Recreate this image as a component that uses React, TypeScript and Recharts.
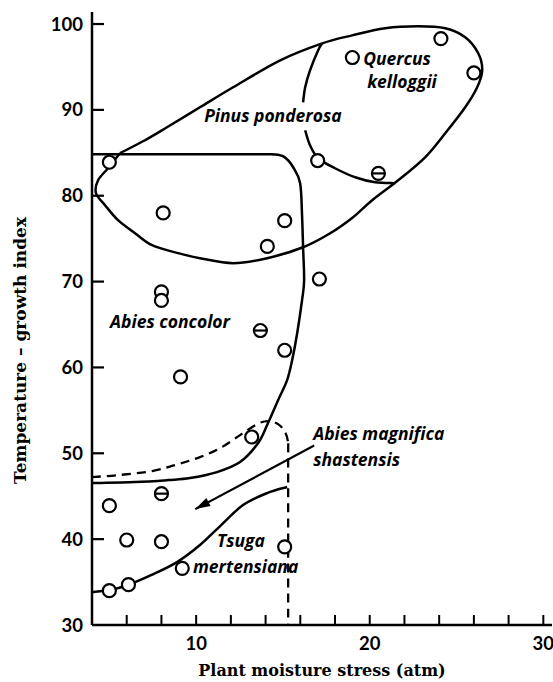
import React from 'react';
import { ScatterChart, Scatter, XAxis, YAxis } from 'recharts';

// axis ticks
const xTicks = [6, 8, 10, 12, 14, 16, 18, 20, 22, 24, 26, 28, 30];
const xLabels = [10, 20, 30];
const yTicks = [30, 40, 50, 60, 70, 80, 90, 100];

// sample stands (open circles)
const stands = [
  { x: 5.0, y: 83.9 },
  { x: 8.1, y: 78.0 },
  { x: 19.0, y: 96.1 },
  { x: 24.1, y: 98.3 },
  { x: 26.0, y: 94.3 },
  { x: 17.0, y: 84.1 },
  { x: 15.1, y: 77.1 },
  { x: 14.1, y: 74.1 },
  { x: 17.1, y: 70.3 },
  { x: 8.0, y: 68.8 },
  { x: 8.0, y: 67.8 },
  { x: 15.1, y: 62.0 },
  { x: 9.1, y: 58.9 },
  { x: 13.2, y: 51.9 },
  { x: 5.0, y: 43.9 },
  { x: 6.0, y: 39.9 },
  { x: 8.0, y: 39.7 },
  { x: 9.2, y: 36.6 },
  { x: 5.0, y: 34.0 },
  { x: 6.1, y: 34.7 },
  { x: 15.1, y: 39.1 },
];

// stands drawn with a bar through the circle
const barredStands = [
  { x: 20.5, y: 82.6 },
  { x: 13.7, y: 64.3 },
  { x: 8.0, y: 45.3 },
];

// Pinus ponderosa outer boundary (closed)
const pinusLoop = [
  { x: 5.61, y: 84.95 }, { x: 7.05, y: 86.46 }, { x: 8.32, y: 87.97 }, { x: 10.22, y: 90.3 },
  { x: 12.13, y: 92.63 }, { x: 14.84, y: 95.77 }, { x: 17.26, y: 97.75 }, { x: 18.99, y: 98.68 },
  { x: 20.89, y: 99.5 }, { x: 22.79, y: 99.73 }, { x: 24.35, y: 99.5 }, { x: 25.5, y: 98.45 },
  { x: 26.25, y: 96.59 }, { x: 26.48, y: 94.61 }, { x: 26.19, y: 92.63 }, { x: 25.5, y: 90.3 },
  { x: 24.35, y: 87.28 }, { x: 23.19, y: 84.48 }, { x: 21.64, y: 81.8 }, { x: 20.14, y: 79.48 },
  { x: 19.04, y: 77.5 }, { x: 17.72, y: 75.63 }, { x: 16.16, y: 74.0 }, { x: 14.09, y: 72.72 },
  { x: 12.13, y: 72.14 }, { x: 10.22, y: 72.72 }, { x: 8.96, y: 73.31 }, { x: 7.46, y: 74.24 },
  { x: 6.48, y: 75.63 }, { x: 5.5, y: 77.15 }, { x: 4.75, y: 78.9 }, { x: 4.23, y: 80.29 },
  { x: 4.35, y: 81.8 }, { x: 4.92, y: 83.2 }, { x: 5.61, y: 84.95 },
];

// Quercus kelloggii inner boundary (broken by the label)
const quercusUpper = [
  { x: 17.26, y: 97.75 }, { x: 17.03, y: 96.94 }, { x: 16.56, y: 94.61 }, { x: 16.28, y: 92.63 },
  { x: 16.16, y: 90.88 },
];
const quercusLower = [
  { x: 16.28, y: 87.62 }, { x: 16.56, y: 85.88 }, { x: 17.03, y: 84.37 }, { x: 18.0, y: 83.2 },
  { x: 19.16, y: 82.15 }, { x: 20.31, y: 81.57 }, { x: 21.46, y: 81.46 },
];

// Abies concolor boundary
const concolorTop = [
  { x: 4.0, y: 84.83 }, { x: 14.43, y: 84.83 },
];
const concolorEdge = [
  { x: 14.43, y: 84.83 }, { x: 15.05, y: 84.55 }, { x: 15.59, y: 83.32 }, { x: 15.99, y: 81.46 },
  { x: 16.1, y: 77.74 }, { x: 16.16, y: 74.0 }, { x: 16.22, y: 70.16 }, { x: 16.1, y: 67.83 },
  { x: 15.82, y: 63.99 }, { x: 15.53, y: 60.85 }, { x: 15.24, y: 58.52 }, { x: 14.72, y: 56.19 },
  { x: 14.14, y: 53.52 }, { x: 13.57, y: 51.19 }, { x: 12.53, y: 48.98 }, { x: 11.2, y: 47.81 },
  { x: 9.65, y: 47.11 }, { x: 8.38, y: 46.88 }, { x: 6.48, y: 46.65 }, { x: 4.0, y: 46.53 },
];

// Abies magnifica shastensis boundary (dashed)
const magnificaEdge = [
  { x: 4.0, y: 47.23 }, { x: 5.5, y: 47.46 }, { x: 7.46, y: 47.93 }, { x: 8.96, y: 48.74 },
  { x: 10.22, y: 49.56 }, { x: 11.38, y: 50.6 }, { x: 12.53, y: 52.12 }, { x: 13.51, y: 53.4 },
  { x: 14.14, y: 53.75 }, { x: 14.72, y: 53.4 }, { x: 15.12, y: 52.47 }, { x: 15.3, y: 51.19 },
  { x: 15.3, y: 49.21 }, { x: 15.3, y: 30.0 },
];

// Tsuga mertensiana boundary
const tsugaEdge = [
  { x: 4.0, y: 33.84 }, { x: 5.04, y: 34.07 }, { x: 6.07, y: 34.66 }, { x: 7.4, y: 35.8 },
  { x: 8.9, y: 37.33 }, { x: 10.22, y: 39.31 }, { x: 11.44, y: 41.64 }, { x: 12.7, y: 43.97 },
  { x: 14.09, y: 45.37 }, { x: 15.24, y: 46.07 },
];

const arrowShaft = [
  { x: 16.8, y: 50.9 }, { x: 9.95, y: 43.5 },
];
const arrowTip = [{ x: 9.95, y: 43.5 }];

const labels = [
  { x: 10.46, y: 88.56, text: 'Pinus ponderosa' },
  { x: 19.62, y: 95.19, text: 'Quercus' },
  { x: 19.85, y: 92.51, text: 'kelloggii' },
  { x: 5.04, y: 64.57, text: 'Abies concolor' },
  { x: 16.74, y: 51.55, text: 'Abies magnifica' },
  { x: 16.74, y: 48.5, text: 'shastensis' },
  { x: 11.2, y: 39.08, text: 'Tsuga' },
  { x: 9.82, y: 36.05, text: 'mertensiana' },
];

// uniform Catmull-Rom curve, passes through every point
const catmullRom = (context: any) => {
  let pts: number[][] = [];
  return {
    areaStart() {},
    areaEnd() {},
    lineStart() { pts = []; },
    point(x: number, y: number) { pts.push([x, y]); },
    lineEnd() {
      if (!pts.length) return;
      context.moveTo(pts[0][0], pts[0][1]);
      for (let i = 0; i < pts.length - 1; i++) {
        const p0 = pts[Math.max(i - 1, 0)];
        const p1 = pts[i];
        const p2 = pts[i + 1];
        const p3 = pts[Math.min(i + 2, pts.length - 1)];
        context.bezierCurveTo(
          p1[0] + (p2[0] - p0[0]) / 6, p1[1] + (p2[1] - p0[1]) / 6,
          p2[0] - (p3[0] - p1[0]) / 6, p2[1] - (p3[1] - p1[1]) / 6,
          p2[0], p2[1]
        );
      }
    },
  };
};

const tickFont = { fontFamily: 'Lato', fontWeight: 700, fontSize: 18.5 };
const nameFont = { fontFamily: 'Open Sans', fontWeight: 700, fontStyle: 'italic', fontSize: 17.5 };

const noDot = () => <g />;

const Circle = (p: any) => (
  <circle cx={p.cx} cy={p.cy} r={6.5} fill="#fff" stroke="#000" strokeWidth={2.2} />
);

const BarredCircle = (p: any) => (
  <g>
    <circle cx={p.cx} cy={p.cy} r={6.5} fill="#fff" stroke="#000" strokeWidth={2.2} />
    <line x1={p.cx - 6.5} y1={p.cy} x2={p.cx + 6.5} y2={p.cy} stroke="#000" strokeWidth={2.2} />
  </g>
);

const ArrowHead = (p: any) => (
  <polygon
    points="0,0 -15,-4.5 -15,4.5"
    fill="#000"
    transform={`translate(${p.cx},${p.cy}) rotate(151.7)`}
  />
);

const NameLabel = (p: any) => (
  <text x={p.cx} y={p.cy} fill="#000" style={nameFont}>{p.payload.text}</text>
);

const XTick = (p: any) => {
  const v = p.payload.value;
  return (
    <g>
      <line x1={p.x} y1={p.y} x2={p.x} y2={p.y - 10} stroke="#000" strokeWidth={2} />
      {xLabels.includes(v) && (
        <text x={p.x} y={p.y + 25} textAnchor="middle" fill="#000" style={tickFont}>{v}</text>
      )}
    </g>
  );
};

const YTick = (p: any) => (
  <g>
    {p.payload.value !== 30 && (
      <line x1={p.x} y1={p.y} x2={p.x + 12} y2={p.y} stroke="#000" strokeWidth={2.2} />
    )}
    <text x={p.x - 9} y={p.y + 6.5} textAnchor="end" fill="#000" style={tickFont}>{p.payload.value}</text>
  </g>
);

const XTitle = (p: any) => {
  const vb = p.viewBox;
  return (
    <text
      x={vb.x + vb.width / 2}
      y={vb.y + 51}
      textAnchor="middle"
      fill="#000"
      style={{ fontFamily: 'DejaVu Serif', fontWeight: 700, fontSize: 16 }}
    >
      Plant moisture stress (atm)
    </text>
  );
};

const YTitle = (p: any) => {
  const vb = p.viewBox;
  return (
    <text
      transform={`translate(${vb.x + 26},${vb.y + vb.height / 2 + 32}) rotate(-90)`}
      textAnchor="middle"
      fill="#000"
      style={{ fontFamily: 'DejaVu Serif', fontWeight: 700, fontSize: 17 }}
    >
      Temperature – growth index
    </text>
  );
};

const solid = { stroke: '#000', strokeWidth: 2.5 };
const dashed = { stroke: '#000', strokeWidth: 2.3, strokeDasharray: '9 6' };

export default function App() {
  return (
    <div style={{ position: 'absolute', left: 0, top: 0, background: '#fff' }}>
      <ScatterChart width={553} height={682} margin={{ top: 12, right: 1, bottom: 0, left: 0 }}>
        <XAxis
          type="number"
          dataKey="x"
          domain={[4, 30.5]}
          ticks={xTicks}
          interval={0}
          allowDataOverflow
          tickSize={0}
          tickMargin={0}
          tickLine={false}
          tick={XTick}
          axisLine={{ stroke: '#000', strokeWidth: 2.5 }}
          height={57}
          label={XTitle}
        />
        <YAxis
          type="number"
          dataKey="y"
          domain={[30, 101.4]}
          ticks={yTicks}
          interval={0}
          allowDataOverflow
          tickSize={0}
          tickMargin={0}
          tickLine={false}
          tick={YTick}
          axisLine={{ stroke: '#000', strokeWidth: 2.5 }}
          width={92}
          label={YTitle}
        />
        <Scatter data={pinusLoop} line={solid} lineJointType={catmullRom as any} shape={noDot} isAnimationActive={false} />
        <Scatter data={quercusUpper} line={solid} lineJointType={catmullRom as any} shape={noDot} isAnimationActive={false} />
        <Scatter data={quercusLower} line={solid} lineJointType={catmullRom as any} shape={noDot} isAnimationActive={false} />
        <Scatter data={concolorTop} line={solid} shape={noDot} isAnimationActive={false} />
        <Scatter data={concolorEdge} line={solid} lineJointType={catmullRom as any} shape={noDot} isAnimationActive={false} />
        <Scatter data={magnificaEdge} line={dashed} lineJointType={catmullRom as any} shape={noDot} isAnimationActive={false} />
        <Scatter data={tsugaEdge} line={solid} lineJointType={catmullRom as any} shape={noDot} isAnimationActive={false} />
        <Scatter data={arrowShaft} line={{ stroke: '#000', strokeWidth: 2.2 }} shape={noDot} isAnimationActive={false} />
        <Scatter data={arrowTip} shape={ArrowHead} isAnimationActive={false} />
        <Scatter data={stands} shape={Circle} isAnimationActive={false} />
        <Scatter data={barredStands} shape={BarredCircle} isAnimationActive={false} />
        <Scatter data={labels} shape={NameLabel} isAnimationActive={false} />
      </ScatterChart>
    </div>
  );
}
